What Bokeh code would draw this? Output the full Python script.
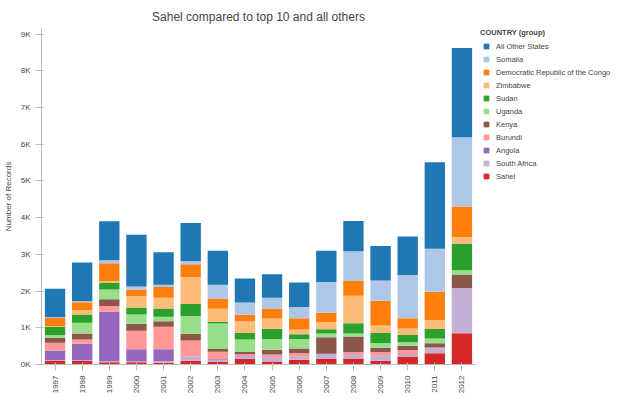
import math
from bokeh.plotting import figure
from bokeh.layouts import row
from bokeh.models import Legend, LegendItem, CustomJSTickFormatter, FactorRange
from bokeh.embed import file_html
from bokeh.resources import INLINE

years = [str(y) for y in range(1997, 2013)]
sahel        = [95,95,60,60,50,105,70,150,85,130,150,165,105,215,305,850]
south_africa = [25,25,35,25,45,105,50,70,105,70,130,95,140,60,130,1215]
angola       = [260,445,1340,330,320,10,20,10,10,10,10,10,10,10,10,10]
burundi      = [210,115,155,505,610,435,210,50,70,95,0,70,85,105,15,10]
kenya        = [130,165,190,190,155,180,70,60,130,130,450,425,115,120,120,365]
uganda       = [80,295,260,250,120,485,695,340,295,260,105,80,130,95,130,120]
sudan        = [225,225,180,190,225,330,50,180,280,130,115,280,270,200,260,715]
zimbabwe     = [15,115,50,315,295,730,350,320,280,130,200,750,210,175,245,185]
drc          = [235,215,490,175,290,350,285,175,270,305,250,410,670,280,765,830]
somalia      = [10,35,80,85,60,85,375,330,295,305,835,800,555,1180,1175,1890]
all_other    = [775,1045,1060,1410,890,1035,920,660,635,670,850,825,940,1045,2350,2430]

names = ["Sahel","South Africa","Angola","Burundi","Kenya","Uganda","Sudan","Zimbabwe",
         "Democratic Republic of the Congo","Somalia","All Other States"]
series = [sahel,south_africa,angola,burundi,kenya,uganda,sudan,zimbabwe,drc,somalia,all_other]
colors = ["#d62728","#c5b0d5","#9467bd","#ff9896","#8c564b","#98df8a","#2ca02c","#ffbb78",
          "#ff7f0e","#aec7e8","#1f77b4"]
keys = ["s%d" % i for i in range(len(names))]
data = {"year": years}
for k, s in zip(keys, series):
    data[k] = s

p = figure(x_range=FactorRange(factors=years), y_range=(0, 9150), width=480, height=396,
           output_backend="svg", toolbar_location=None,
           title="Sahel compared to top 10 and all others")
p.title.align = "center"
p.title.text_font = "Arial"
p.title.text_font_size = "12px"
p.title.text_font_style = "normal"
rs = p.vbar_stack(keys, x="year", width=0.75, color=colors, source=data, line_color=None)

p.yaxis.axis_label = "Number of Records"
p.yaxis.axis_label_text_font_size = "8px"
p.yaxis.axis_label_text_font_style = "normal"
p.yaxis.ticker = list(range(0, 9001, 1000))
p.yaxis.formatter = CustomJSTickFormatter(code="return (tick/1000) + 'K';")
p.yaxis.major_label_text_font_size = "8px"
p.xaxis.major_label_orientation = math.pi / 2
p.xaxis.major_label_text_font_size = "8px"
p.xgrid.grid_line_color = None
p.ygrid.grid_line_color = None
p.outline_line_color = None
p.axis.axis_line_color = "#bbbbbb"
p.axis.major_tick_line_color = "#bbbbbb"
p.axis.minor_tick_line_color = None
p.min_border_left = 5
p.min_border_right = 5

lg = figure(width=142, height=396, output_backend="svg", toolbar_location=None,
            x_range=(0, 1), y_range=(0, 1))
lg.axis.visible = False
lg.grid.visible = False
lg.outline_line_color = None
dummies = [lg.scatter(x=[-5], y=[-5], marker="square", size=11, color=c) for c in colors]
items = [LegendItem(label=n, renderers=[r]) for n, r in zip(names, dummies)][::-1]
leg = Legend(items=items, title="COUNTRY (group)", title_text_font_style="bold",
             title_text_font_size="7.5px", label_text_font_size="7.5px",
             glyph_height=12, glyph_width=12, spacing=1, label_height=12,
             border_line_color=None, padding=0, margin=0, label_standoff=4,
             title_standoff=3, location="top_left", background_fill_alpha=0)
lg.add_layout(leg)
lg.min_border_left = 0
lg.min_border_right = 0
lg.min_border_top = 28

open("out.html", "w").write(file_html(row(p, lg), INLINE))
